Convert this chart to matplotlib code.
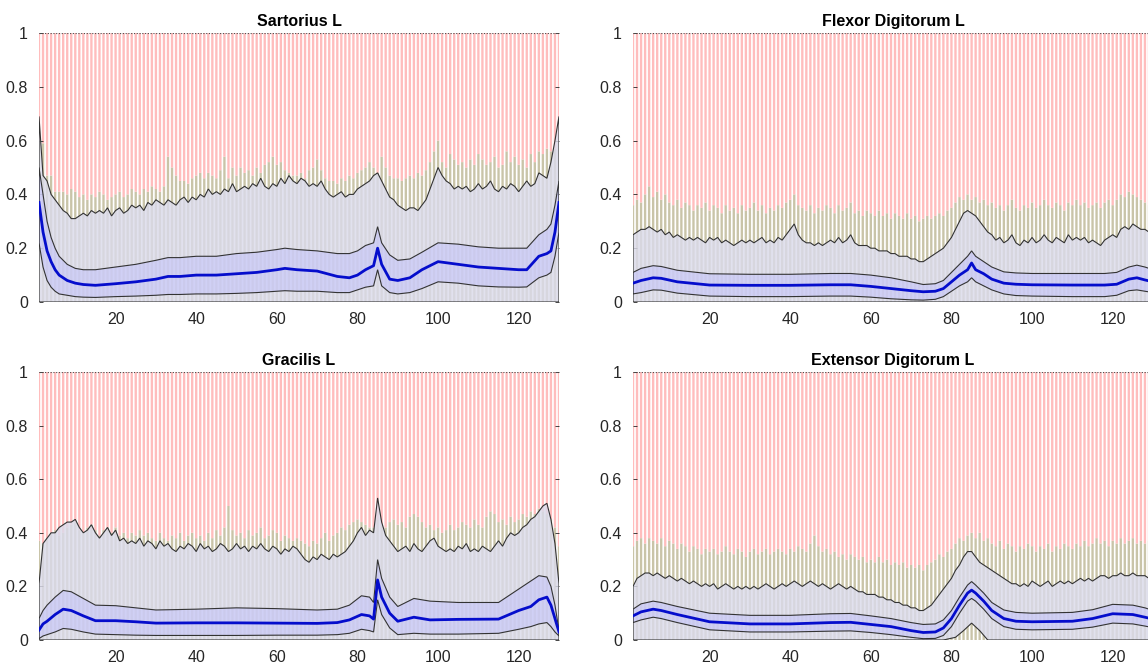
import numpy as np
import matplotlib
matplotlib.use("Agg")
import matplotlib.pyplot as plt

plt.rcParams['font.family'] = ['Liberation Sans', 'DejaVu Sans']

# ---------------- shared x ----------------
frames = list(range(1, 131))
x_ticks = [20, 40, 60, 80, 100, 120]
y_ticks = [0, 0.2, 0.4, 0.6, 0.8, 1]
y_tick_labels = ['0', '0.2', '0.4', '0.6', '0.8', '1']

# ---------------- Sartorius L ----------------
sart_bars = [0.60,0.59,0.47,0.47,0.41,0.41,0.41,0.40,0.42,0.41,0.39,0.40,0.38,0.40,0.39,0.41,0.40,0.38,0.39,0.40,
             0.41,0.39,0.40,0.42,0.41,0.40,0.42,0.41,0.43,0.42,0.41,0.43,0.54,0.50,0.47,0.45,0.45,0.44,0.46,0.47,
             0.48,0.46,0.48,0.47,0.46,0.49,0.54,0.46,0.50,0.47,0.50,0.48,0.49,0.47,0.50,0.48,0.51,0.52,0.54,0.51,
             0.52,0.49,0.48,0.47,0.47,0.48,0.46,0.49,0.50,0.53,0.49,0.46,0.45,0.45,0.44,0.46,0.45,0.47,0.46,0.48,
             0.49,0.50,0.52,0.50,0.48,0.54,0.50,0.47,0.46,0.46,0.45,0.46,0.47,0.46,0.48,0.47,0.49,0.52,0.56,0.60,
             0.52,0.50,0.55,0.53,0.51,0.52,0.50,0.53,0.51,0.55,0.53,0.51,0.52,0.54,0.50,0.51,0.56,0.52,0.54,0.51,
             0.53,0.50,0.55,0.52,0.56,0.55,0.57,0.56,0.57,0.60]
sart_max = [0.69,0.47,0.45,0.40,0.38,0.36,0.34,0.33,0.31,0.31,0.32,0.33,0.32,0.34,0.33,0.34,0.33,0.35,0.32,0.34,
            0.35,0.33,0.34,0.36,0.35,0.36,0.34,0.37,0.36,0.38,0.37,0.36,0.38,0.37,0.36,0.38,0.39,0.37,0.39,0.38,
            0.40,0.39,0.42,0.40,0.41,0.40,0.42,0.41,0.44,0.41,0.42,0.43,0.42,0.44,0.43,0.46,0.43,0.42,0.44,0.43,
            0.46,0.44,0.47,0.45,0.44,0.46,0.45,0.43,0.44,0.43,0.45,0.42,0.40,0.39,0.40,0.41,0.39,0.40,0.40,0.42,
            0.43,0.44,0.45,0.47,0.48,0.45,0.42,0.39,0.38,0.36,0.35,0.34,0.35,0.35,0.34,0.36,0.38,0.42,0.46,0.50,
            0.47,0.45,0.44,0.42,0.43,0.42,0.43,0.41,0.42,0.44,0.42,0.43,0.45,0.42,0.41,0.43,0.42,0.44,0.43,0.41,
            0.43,0.45,0.43,0.44,0.48,0.47,0.46,0.52,0.60,0.69]
sart_env_x = [1,2,3,4,5,6,8,10,12,15,20,25,30,33,36,40,45,50,55,60,62,65,70,75,78,80,82,84,85,86,88,90,93,96,100,
              105,110,115,120,122,125,127,128,129,130]
sart_mean = [0.37,0.26,0.19,0.15,0.12,0.10,0.08,0.07,0.065,0.062,0.068,0.075,0.085,0.095,0.095,0.10,0.10,0.105,0.11,
             0.12,0.125,0.12,0.115,0.095,0.09,0.10,0.12,0.135,0.20,0.14,0.085,0.08,0.09,0.12,0.15,0.14,0.13,0.125,
             0.12,0.12,0.17,0.18,0.19,0.26,0.37]
sart_upper = [0.50,0.40,0.30,0.24,0.20,0.17,0.14,0.125,0.12,0.12,0.13,0.14,0.155,0.165,0.165,0.17,0.17,0.18,0.185,
              0.195,0.20,0.195,0.19,0.18,0.18,0.19,0.21,0.22,0.28,0.22,0.175,0.155,0.16,0.185,0.22,0.215,0.205,0.20,
              0.20,0.20,0.25,0.27,0.29,0.36,0.45]
sart_lower = [0.22,0.13,0.08,0.055,0.04,0.03,0.025,0.02,0.018,0.017,0.02,0.022,0.025,0.028,0.028,0.03,0.03,0.032,
              0.035,0.04,0.042,0.04,0.04,0.035,0.035,0.045,0.055,0.06,0.12,0.06,0.035,0.03,0.035,0.05,0.075,0.07,
              0.06,0.056,0.055,0.056,0.09,0.10,0.11,0.17,0.26]
sart_min_x = [1, 130]
sart_min = [0.0, 0.0]

# ---------------- Flexor Digitorum L ----------------
flex_bars = [0.36,0.38,0.37,0.40,0.43,0.39,0.41,0.38,0.40,0.37,0.36,0.38,0.35,0.37,0.36,0.34,0.36,0.35,0.37,0.34,
             0.36,0.35,0.33,0.36,0.34,0.35,0.33,0.36,0.34,0.35,0.37,0.34,0.36,0.33,0.35,0.34,0.36,0.35,0.37,0.38,
             0.40,0.36,0.35,0.34,0.36,0.33,0.35,0.34,0.36,0.35,0.33,0.36,0.34,0.35,0.37,0.33,0.34,0.32,0.34,0.33,
             0.32,0.34,0.32,0.33,0.31,0.33,0.32,0.31,0.33,0.31,0.32,0.30,0.31,0.32,0.31,0.32,0.33,0.32,0.34,0.35,
             0.37,0.39,0.38,0.40,0.38,0.39,0.37,0.38,0.36,0.37,0.35,0.36,0.34,0.36,0.38,0.35,0.34,0.36,0.35,0.37,
             0.35,0.36,0.38,0.36,0.35,0.37,0.36,0.34,0.37,0.36,0.38,0.36,0.37,0.35,0.36,0.37,0.35,0.37,0.38,0.36,
             0.38,0.40,0.39,0.41,0.40,0.39,0.38,0.37,0.36,0.36]
flex_max = [0.25,0.26,0.27,0.27,0.28,0.27,0.26,0.27,0.25,0.26,0.24,0.25,0.24,0.23,0.24,0.23,0.24,0.23,0.22,0.24,
            0.23,0.24,0.22,0.23,0.22,0.21,0.22,0.23,0.22,0.23,0.22,0.23,0.24,0.22,0.23,0.22,0.24,0.23,0.25,0.27,
            0.29,0.25,0.23,0.22,0.22,0.21,0.22,0.21,0.22,0.23,0.22,0.24,0.22,0.23,0.25,0.22,0.21,0.21,0.21,0.20,
            0.20,0.19,0.19,0.19,0.18,0.18,0.17,0.17,0.17,0.16,0.16,0.15,0.15,0.16,0.17,0.18,0.19,0.20,0.22,0.24,
            0.27,0.30,0.33,0.34,0.33,0.32,0.30,0.28,0.26,0.25,0.23,0.24,0.22,0.23,0.25,0.22,0.21,0.23,0.22,0.24,
            0.22,0.23,0.25,0.23,0.22,0.24,0.23,0.22,0.25,0.23,0.24,0.23,0.24,0.22,0.23,0.22,0.21,0.23,0.24,0.25,
            0.24,0.27,0.28,0.27,0.29,0.28,0.27,0.27,0.26,0.26]
flex_env_x = [1,3,6,8,12,20,30,40,50,55,60,65,70,73,76,78,80,82,84,85,86,88,90,93,96,100,110,118,121,124,126,128,130]
flex_mean = [0.07,0.08,0.09,0.088,0.075,0.063,0.062,0.062,0.064,0.064,0.058,0.05,0.042,0.038,0.04,0.05,0.075,0.10,
             0.12,0.145,0.12,0.105,0.085,0.07,0.066,0.064,0.063,0.063,0.066,0.085,0.09,0.082,0.075]
flex_upper = [0.11,0.125,0.135,0.132,0.118,0.105,0.103,0.103,0.106,0.106,0.10,0.09,0.075,0.065,0.068,0.08,0.11,0.14,
              0.17,0.19,0.17,0.15,0.13,0.112,0.108,0.106,0.106,0.106,0.11,0.13,0.137,0.13,0.12]
flex_lower = [0.03,0.035,0.045,0.044,0.033,0.022,0.02,0.02,0.022,0.022,0.018,0.012,0.008,0.007,0.01,0.02,0.04,0.06,
              0.075,0.09,0.075,0.06,0.045,0.03,0.024,0.022,0.02,0.02,0.025,0.042,0.045,0.04,0.035]
flex_min_x = [1, 130]
flex_min = [0.0, 0.0]

# ---------------- Gracilis L ----------------
grac_bars = [0.37,0.36,0.38,0.40,0.41,0.39,0.40,0.42,0.43,0.44,0.41,0.40,0.42,0.43,0.41,0.39,0.41,0.42,0.40,0.42,
             0.39,0.40,0.38,0.40,0.39,0.41,0.39,0.40,0.38,0.37,0.40,0.38,0.37,0.39,0.38,0.40,0.37,0.39,0.40,0.38,
             0.39,0.37,0.40,0.38,0.41,0.39,0.42,0.50,0.41,0.39,0.40,0.38,0.41,0.39,0.40,0.42,0.38,0.39,0.41,0.40,
             0.37,0.39,0.38,0.37,0.38,0.37,0.36,0.35,0.37,0.36,0.38,0.40,0.37,0.39,0.40,0.42,0.41,0.43,0.44,0.45,
             0.44,0.43,0.42,0.42,0.45,0.43,0.42,0.44,0.45,0.43,0.44,0.42,0.46,0.47,0.46,0.44,0.42,0.43,0.41,0.42,
             0.40,0.41,0.43,0.41,0.42,0.44,0.43,0.42,0.45,0.43,0.42,0.46,0.48,0.47,0.44,0.45,0.43,0.46,0.44,0.45,
             0.47,0.46,0.48,0.47,0.49,0.48,0.47,0.45,0.42,0.35]
grac_max = [0.21,0.36,0.38,0.40,0.40,0.42,0.43,0.44,0.44,0.45,0.42,0.40,0.41,0.43,0.40,0.38,0.40,0.42,0.39,0.41,
            0.37,0.38,0.36,0.37,0.36,0.38,0.35,0.37,0.36,0.34,0.37,0.35,0.36,0.34,0.33,0.35,0.34,0.36,0.35,0.33,
            0.36,0.34,0.35,0.33,0.34,0.36,0.35,0.33,0.34,0.36,0.34,0.35,0.33,0.35,0.34,0.36,0.34,0.33,0.35,0.34,
            0.32,0.34,0.33,0.35,0.34,0.32,0.30,0.29,0.31,0.30,0.32,0.31,0.30,0.32,0.31,0.32,0.33,0.35,0.37,0.40,
            0.42,0.39,0.41,0.40,0.53,0.44,0.39,0.37,0.35,0.33,0.34,0.35,0.33,0.36,0.34,0.33,0.35,0.37,0.38,0.35,
            0.34,0.33,0.34,0.33,0.35,0.34,0.36,0.33,0.34,0.33,0.35,0.34,0.33,0.35,0.37,0.35,0.38,0.40,0.39,0.40,
            0.42,0.43,0.45,0.46,0.48,0.50,0.51,0.45,0.36,0.21]
grac_env_x = [1,2,3,5,7,9,12,15,20,25,30,40,50,60,70,75,78,81,83,84,85,86,88,90,94,98,105,115,120,123,125,127,128,
              129,130]
grac_mean = [0.037,0.06,0.07,0.095,0.115,0.11,0.09,0.072,0.072,0.068,0.063,0.064,0.064,0.063,0.062,0.065,0.075,0.095,
             0.09,0.078,0.224,0.16,0.10,0.07,0.085,0.075,0.077,0.078,0.11,0.125,0.15,0.16,0.13,0.08,0.03]
grac_upper = [0.08,0.11,0.13,0.16,0.185,0.18,0.155,0.13,0.128,0.12,0.112,0.115,0.12,0.117,0.112,0.115,0.13,0.165,
              0.16,0.14,0.30,0.23,0.16,0.125,0.155,0.145,0.14,0.14,0.19,0.22,0.24,0.235,0.20,0.13,0.035]
grac_lower = [0.005,0.015,0.02,0.03,0.043,0.04,0.03,0.022,0.02,0.018,0.017,0.017,0.017,0.018,0.018,0.02,0.025,0.04,
              0.035,0.03,0.15,0.095,0.045,0.02,0.025,0.022,0.022,0.025,0.04,0.05,0.06,0.065,0.05,0.03,0.015]
grac_min_x = [1, 130]
grac_min = [0.0, 0.0]

# ---------------- Extensor Digitorum L ----------------
ext_bars = [0.35,0.37,0.38,0.36,0.38,0.37,0.36,0.38,0.35,0.37,0.36,0.34,0.36,0.35,0.33,0.35,0.34,0.32,0.34,0.33,
            0.34,0.32,0.33,0.35,0.33,0.32,0.34,0.33,0.31,0.33,0.34,0.32,0.33,0.34,0.32,0.33,0.34,0.33,0.32,0.34,
            0.33,0.35,0.34,0.33,0.36,0.39,0.35,0.33,0.34,0.32,0.33,0.31,0.32,0.30,0.32,0.31,0.30,0.31,0.29,0.30,
            0.29,0.31,0.29,0.30,0.28,0.29,0.28,0.29,0.27,0.28,0.27,0.28,0.26,0.28,0.29,0.30,0.32,0.31,0.33,0.34,
            0.36,0.38,0.37,0.39,0.40,0.38,0.40,0.37,0.38,0.36,0.35,0.37,0.34,0.36,0.35,0.33,0.35,0.34,0.36,0.35,
            0.33,0.35,0.34,0.36,0.33,0.35,0.34,0.36,0.35,0.34,0.36,0.35,0.37,0.35,0.36,0.38,0.36,0.37,0.35,0.37,
            0.36,0.38,0.36,0.37,0.38,0.36,0.37,0.36,0.37,0.36]
ext_max = [0.20,0.23,0.24,0.25,0.25,0.24,0.25,0.24,0.23,0.24,0.23,0.22,0.23,0.22,0.21,0.22,0.21,0.20,0.21,0.20,
           0.21,0.19,0.20,0.21,0.20,0.19,0.20,0.19,0.20,0.19,0.20,0.19,0.20,0.21,0.20,0.19,0.20,0.21,0.20,0.21,
           0.22,0.21,0.20,0.21,0.22,0.21,0.20,0.21,0.20,0.19,0.20,0.21,0.20,0.19,0.20,0.19,0.18,0.18,0.17,0.17,
           0.17,0.16,0.16,0.15,0.15,0.14,0.14,0.13,0.13,0.12,0.12,0.11,0.11,0.12,0.13,0.15,0.17,0.19,0.21,0.23,
           0.26,0.28,0.31,0.33,0.33,0.31,0.29,0.28,0.27,0.26,0.25,0.24,0.23,0.22,0.21,0.21,0.20,0.21,0.20,0.22,
           0.21,0.20,0.21,0.22,0.20,0.21,0.22,0.21,0.22,0.21,0.22,0.23,0.22,0.23,0.22,0.23,0.24,0.24,0.23,0.24,
           0.24,0.25,0.24,0.24,0.25,0.24,0.24,0.24,0.23,0.23]
ext_env_x = [1,3,6,8,12,20,30,40,50,55,60,65,70,73,76,78,80,82,84,85,86,88,90,93,96,100,110,115,120,125,128,130]
ext_mean = [0.09,0.105,0.115,0.11,0.095,0.068,0.06,0.06,0.065,0.066,0.058,0.05,0.035,0.028,0.03,0.045,0.08,0.13,
            0.175,0.186,0.175,0.145,0.11,0.08,0.07,0.068,0.07,0.08,0.098,0.095,0.085,0.078]
ext_upper = [0.115,0.135,0.145,0.14,0.125,0.10,0.092,0.092,0.098,0.099,0.09,0.08,0.065,0.058,0.06,0.075,0.11,0.16,
             0.205,0.218,0.205,0.175,0.14,0.112,0.103,0.10,0.103,0.113,0.133,0.13,0.12,0.11]
ext_lower = [0.065,0.075,0.085,0.08,0.065,0.038,0.03,0.03,0.033,0.034,0.028,0.02,0.01,0.005,0.006,0.017,0.05,0.10,
             0.145,0.155,0.145,0.115,0.08,0.05,0.04,0.038,0.04,0.048,0.063,0.06,0.052,0.046]
ext_min_x = [1, 78, 81, 83, 85, 87, 89, 130]
ext_min = [0.0, 0.0, 0.01, 0.035, 0.063, 0.035, 0.0, 0.0]

PINK = (1.0, 0.74, 0.74)
OLIVE = (0.79, 0.77, 0.66)
GRAYFILL = (0.86, 0.86, 0.92, 0.82)
BLUEFILL = (0.74, 0.74, 1.0, 0.45)
LINE = (0.2, 0.2, 0.2)


def draw(ax, title, bars, mx, env_x, mean, up, lo, min_x, mn):
    x = np.array(frames)
    b = np.array(bars)
    ax.bar(x, b, width=0.58, color=OLIVE, linewidth=0, zorder=1, snap=False)
    ax.bar(x, 1 - b, bottom=b, width=0.58, color=PINK, linewidth=0, zorder=1, snap=False)
    # min-max envelope
    px = np.concatenate([x, np.array(min_x)[::-1]])
    py = np.concatenate([np.array(mx), np.array(mn)[::-1]])
    ax.fill(px, py, facecolor=GRAYFILL, edgecolor=LINE, linewidth=0.8, zorder=2)
    # mean +- std band
    ex = np.array(env_x)
    bx = np.concatenate([ex, ex[::-1]])
    by = np.concatenate([np.array(up), np.array(lo)[::-1]])
    ax.fill(bx, by, facecolor=BLUEFILL, edgecolor=LINE, linewidth=0.8, zorder=3)
    ax.plot(ex, mean, color=(0.02, 0.05, 0.8), linewidth=2.0, zorder=4)
    ax.axhline(1, color=(0.3, 0.3, 0.3), linestyle=(0, (1, 1.5)), linewidth=0.8, zorder=5)
    ax.set_xlim(1, 130)
    ax.set_ylim(0, 1)
    ax.set_xticks(x_ticks)
    ax.set_yticks(y_ticks)
    ax.set_yticklabels(y_tick_labels)
    for s in ax.spines.values():
        s.set_visible(False)
    ax.tick_params(axis='both', labelsize=11.5, colors=(0.15, 0.15, 0.15), length=3, width=0.6,
                   direction='in', right=True, top=False)
    ax.tick_params(axis='y', pad=8)
    ax.tick_params(axis='x', length=0, pad=7)
    ax.set_title(title, fontsize=11.5, fontweight='bold', pad=5)


fig = plt.figure(figsize=(11.48, 6.66), dpi=100)
W = 1148.0
H = 666.0
aw = 520 / W
ah = 269 / H
ax1 = fig.add_axes([39 / W, (H - 302) / H, aw, ah])
ax2 = fig.add_axes([633 / W, (H - 302) / H, aw, ah])
ax3 = fig.add_axes([39 / W, (H - 640) / H, aw, 268 / H])
ax4 = fig.add_axes([633 / W, (H - 640) / H, aw, 268 / H])

draw(ax1, 'Sartorius L', sart_bars, sart_max, sart_env_x, sart_mean, sart_upper, sart_lower, sart_min_x, sart_min)
draw(ax2, 'Flexor Digitorum L', flex_bars, flex_max, flex_env_x, flex_mean, flex_upper, flex_lower, flex_min_x, flex_min)
draw(ax3, 'Gracilis L', grac_bars, grac_max, grac_env_x, grac_mean, grac_upper, grac_lower, grac_min_x, grac_min)
draw(ax4, 'Extensor Digitorum L', ext_bars, ext_max, ext_env_x, ext_mean, ext_upper, ext_lower, ext_min_x, ext_min)

fig.savefig('out.png', dpi=100)
